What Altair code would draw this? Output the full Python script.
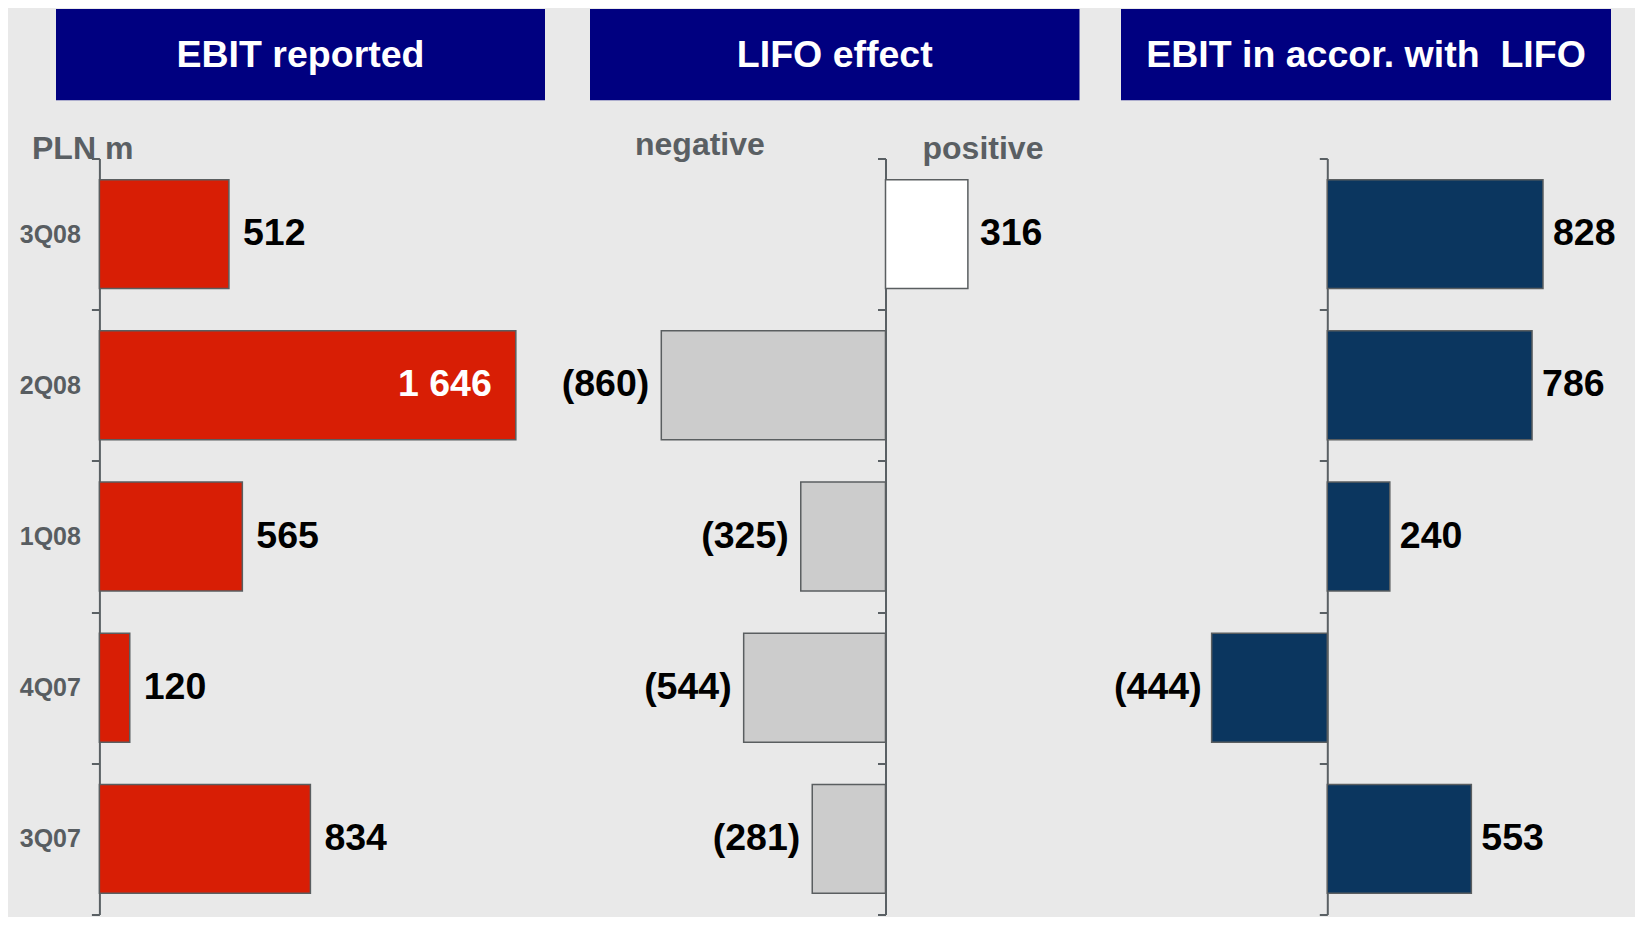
import altair as alt
import pandas as pd

# ---------------- data ----------------
quarters = ["3Q08", "2Q08", "1Q08", "4Q07", "3Q07"]
ebit_reported = [512, 1646, 565, 120, 834]
lifo_effect = [316, -860, -325, -544, -281]
ebit_lifo = [828, 786, 240, -444, 553]
titles = ["EBIT reported", "LIFO effect", "EBIT in accor. with\u00a0 LIFO"]
unit_label = ["PLN m"]
side_labels = ["negative", "positive"]

# ---------------- style ----------------
FONT = "Liberation Sans"
BG = "#e9e9e9"
HEADER = "#000080"
RED = "#d81e05"
NAVY = "#0b365f"
HATCH = "#cccccc"
AXIS = "#5a6064"
BAR_STROKE = "#5a5e60"
GREY_TXT = "#5a5f63"

HB = 756          # height of the band area (plot area)
TOP = 152         # distance from chart top to the plot area

panels_cfg = [
    dict(values=ebit_reported, W=550, zero=91.4, k=0.2530, header=(48, 537), dx=14, labels=True),
    dict(values=lifo_effect, W=542, zero=327.5, k=0.2607, header=(32, 521.5), dx=12, labels=False),
    dict(values=ebit_lifo, W=535, zero=227.3, k=0.2605, header=(21, 511), dx=10, labels=False),
]
fills = [
    alt.value(RED),
    alt.condition("datum.v > 0", alt.value("white"), alt.value(HATCH)),
    alt.value(NAVY),
]

label_expr = ("datum.v < 0 ? '(' + format(-datum.v, 'd') + ')' "
              ": replace(format(datum.v, ','), ',', ' ')")

txt_style = dict(fontSize=37.5, fontWeight="bold", font=FONT, baseline="middle")


def note(text, x, y, size=32):
    return alt.Chart(pd.DataFrame({"t": [text]})).mark_text(
        align="left", baseline="alphabetic", fontSize=size, fontWeight="bold",
        font=FONT, color=GREY_TXT
    ).encode(x=alt.value(x), y=alt.value(y), text="t:N")


def make_panel(i, cfg):
    W, zero, k = cfg["W"], cfg["zero"], cfg["k"]
    df = pd.DataFrame({"q": quarters, "v": cfg["values"]})
    base = alt.Chart(df).transform_calculate(lbl=label_expr)

    xs = alt.Scale(domain=[-zero / k, (W - zero) / k], nice=False, zero=False)
    x = alt.X("v:Q", scale=xs, axis=None)
    y = alt.Y(
        "q:N",
        sort=quarters,
        title=None,
        scale=alt.Scale(paddingInner=0, paddingOuter=0),
        axis=alt.Axis(
            offset=-zero,
            labels=cfg["labels"],
            tickBand="extent",
            tickSize=8,
            tickWidth=2,
            tickColor=AXIS,
            domainColor=AXIS,
            domainWidth=2,
            grid=False,
            labelFont=FONT,
            labelFontSize=25,
            labelFontWeight="bold",
            labelColor="#585d61",
            labelPadding=11,
        ),
    )

    bars = base.mark_bar(
        stroke=BAR_STROKE, strokeWidth=1.5, height={"band": 0.72}
    ).encode(x=x, x2=alt.datum(0), y=y, fill=fills[i])
    pos = base.transform_filter("datum.v > 0 && datum.v < 1000").mark_text(
        align="left", dx=cfg["dx"], color="black", **txt_style
    ).encode(x=x, y=y, text="lbl:N")
    neg = base.transform_filter("datum.v < 0").mark_text(
        align="right", dx=-cfg["dx"], color="black", **txt_style
    ).encode(x=x, y=y, text="lbl:N")
    inside = base.transform_filter("datum.v >= 1000").mark_text(
        align="right", dx=-24, color="white", **txt_style
    ).encode(x=x, y=y, text="lbl:N")

    h0, h1 = cfg["header"]
    hdf = pd.DataFrame({"t": [titles[i]]})
    head_rect = alt.Chart(hdf).mark_rect(color=HEADER).encode(
        x=alt.value(h0), x2=alt.value(h1),
        y=alt.value(2.5 - TOP), y2=alt.value(93.7 - TOP)
    )
    head_text = alt.Chart(hdf).mark_text(
        align="center", baseline="alphabetic", fontSize=37.5, fontWeight="bold",
        font=FONT, color="white"
    ).encode(x=alt.value((h0 + h1) / 2), y=alt.value(60 - TOP), text="t:N")

    layers = [head_rect, head_text, bars, pos, neg, inside]

    if i == 0:
        layers.append(note(unit_label[0], 24.0, 0))
    if i == 1:
        layers.append(note(side_labels[0], 77, -4))
        layers.append(note(side_labels[1], 364.5, 0))

    return alt.layer(*layers).properties(width=W, height=HB)


chart = (
    alt.hconcat(*[make_panel(i, c) for i, c in enumerate(panels_cfg)], spacing=0)
    .properties(padding={"top": 0.5, "left": 0, "right": 0, "bottom": 1},
                background=BG)
    .configure_view(strokeWidth=0)
)

chart.save("out.html", embed_options={"renderer": "svg", "actions": False})
